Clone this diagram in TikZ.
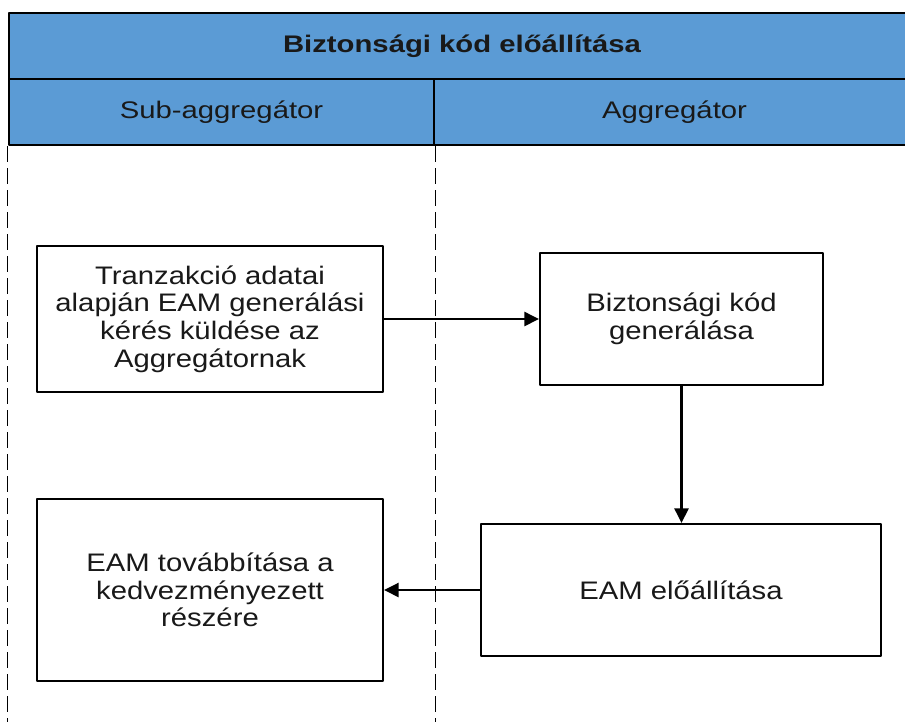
\documentclass[tikz,border=0pt]{standalone}
\usepackage{fontspec}
\setmainfont[FakeStretch=1.155]{Liberation Sans}
\newfontfamily\hdrfont[FakeStretch=1.22]{Liberation Sans}
\usetikzlibrary{arrows.meta}
\definecolor{hdrblue}{rgb}{0.357,0.608,0.835}
\definecolor{txtdark}{rgb}{0.1,0.1,0.1}

\begin{document}
\begin{tikzpicture}[line cap=round,line join=round,>={Triangle[length=11pt,width=10.5pt]},x=0.75pt,y=-0.75pt,
  hdr/.style={draw,line width=2.2pt,fill=hdrblue,text=txtdark,inner sep=0pt,font=\hdrfont\fontsize{18}{20.5}\selectfont},
  stepbox/.style={draw,line width=1.5pt,fill=white,text=txtdark,align=center,inner sep=2pt,font=\fontsize{19}{20.8}\selectfont},
  lane/.style={dashed,dash pattern=on 11.5pt off 5pt,line width=1.3pt,line cap=butt},
  flow/.style={line width=1.9pt}]
\useasboundingbox (0,0) rectangle (905,722);
\clip (0,0) rectangle (905,722);
% header
\node [hdr,minimum width=679.5pt,minimum height=49.5pt,font=\hdrfont\fontsize{18}{20.5}\selectfont\bfseries] (title) at (462,46) {Biztonsági kód előállítása};
\node [hdr,minimum width=318.75pt,minimum height=49.5pt] (sublane) at (221.5,112) {Sub-aggregátor};
\node [hdr,minimum width=360.75pt,minimum height=49.5pt] (agglane) at (674.5,112) {Aggregátor};
% swimlanes
\draw [lane] (sublane.south west) -- (sublane.south west |- 0,722);
\draw [lane] (sublane.south east) -- (sublane.south east |- 0,722);
% steps
\node [stepbox,minimum width=259.5pt,minimum height=109.5pt] (tranz) at (210,319) {Tranzakció adatai\\alapján EAM generálási\\kérés küldése az\\Aggregátornak};
\node [stepbox,minimum width=212.25pt,minimum height=99pt] (kodgen) at (681.5,319) {Biztonsági kód\\generálása};
\node [stepbox,minimum width=300pt,minimum height=99pt] (eamelo) at (681,590) {EAM előállítása};
\node [stepbox,minimum width=259.5pt,minimum height=136.5pt] (eamtov) at (210,590) {EAM továbbítása a\\kedvezményezett\\részére};
% flows
\draw [->,flow] (tranz) -- (kodgen);
\draw [->,flow] (kodgen.south) -- (kodgen.south |- eamelo.north);
\draw [->,flow] (eamelo) -- (eamtov);
\end{tikzpicture}
\end{document}
